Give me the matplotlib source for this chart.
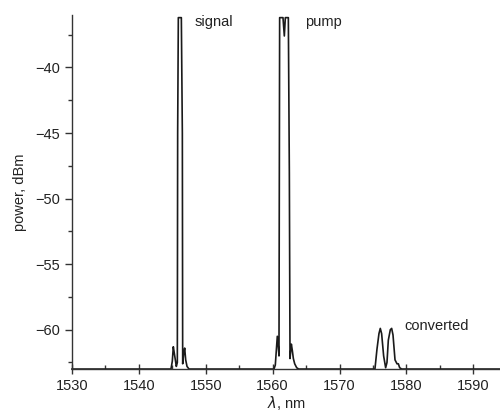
import matplotlib.pyplot as plt
from matplotlib.ticker import MultipleLocator

plt.rcParams['font.family'] = ['Liberation Sans', 'DejaVu Sans']

# spectrum trace (wavelength in nm, power in dBm)
wavelength = [1530.0, 1544.8, 1545.0, 1545.15, 1545.3, 1545.45, 1545.6, 1545.75,
              1545.8, 1545.9, 1546.35, 1546.5, 1546.55, 1546.7, 1546.85, 1547.0,
              1547.2, 1547.5,
              1560.2, 1560.4, 1560.55, 1560.7, 1560.85, 1560.95, 1561.05, 1561.55,
              1561.75, 1561.9, 1562.35, 1562.5, 1562.6, 1562.8, 1562.95, 1563.1,
              1563.3, 1563.6, 1563.9,
              1575.3, 1575.6, 1575.9, 1576.1, 1576.3, 1576.6, 1576.9, 1577.1,
              1577.3, 1577.6, 1577.8, 1578.0, 1578.3, 1578.6, 1578.8, 1579.0,
              1579.3, 1594.0]
power = [-63.0, -63.0, -62.4, -61.3, -61.8, -62.3, -62.8, -62.5,
         -45.0, -36.2, -36.2, -45.0, -62.6, -61.8, -61.4, -62.3,
         -62.8, -63.0,
         -63.0, -62.7, -61.6, -60.5, -61.3, -62.0, -36.2, -36.2,
         -37.6, -36.2, -36.2, -48.0, -62.2, -61.1, -61.6, -62.2,
         -62.6, -62.9, -63.0,
         -63.0, -61.5, -60.3, -59.9, -60.3, -62.0, -62.9, -62.5,
         -60.8, -60.0, -59.9, -60.4, -62.3, -62.6, -62.6, -62.9,
         -63.0, -63.0]

peak_labels = ['signal', 'pump', 'converted']
label_x = [1548.4, 1564.8, 1579.7]
label_y = [-36.5, -36.5, -59.7]

fig = plt.figure(figsize=(5.0, 4.17), dpi=100)
ax = fig.add_axes([0.144, 0.115, 0.856, 0.849])

ax.plot(wavelength, power, color='#1a1a1a', lw=1.2, clip_on=False)

for txt, x, y in zip(peak_labels, label_x, label_y):
    ax.text(x, y, txt, fontsize=10.5, ha='left', va='center', color='#222222')

ax.set_xlim(1530, 1594)
ax.set_ylim(-63, -36)
ax.xaxis.set_major_locator(MultipleLocator(10))
ax.xaxis.set_minor_locator(MultipleLocator(5))
ax.yaxis.set_major_locator(MultipleLocator(5))
ax.yaxis.set_minor_locator(MultipleLocator(2.5))

for side in ['top', 'right']:
    ax.spines[side].set_visible(False)
for side in ['left', 'bottom']:
    ax.spines[side].set_linewidth(1.0)
    ax.spines[side].set_color('#333333')

ax.tick_params(axis='x', which='major', direction='inout', length=7, width=1,
               labelsize=10.5, colors='#333333', labelcolor='#222222')
ax.tick_params(axis='x', which='minor', direction='in', length=3, width=1,
               colors='#333333')
ax.tick_params(axis='y', which='major', direction='out', length=5, width=1,
               labelsize=10.5, colors='#333333', labelcolor='#222222')
ax.tick_params(axis='y', which='minor', direction='out', length=3, width=1,
               colors='#333333')

ax.set_xlabel(r'$\lambda$, nm', fontsize=10.5, labelpad=1, color='#222222')
ax.set_ylabel('power, dBm', fontsize=10.5, labelpad=6, color='#222222')

fig.savefig('out.png', dpi=100)
